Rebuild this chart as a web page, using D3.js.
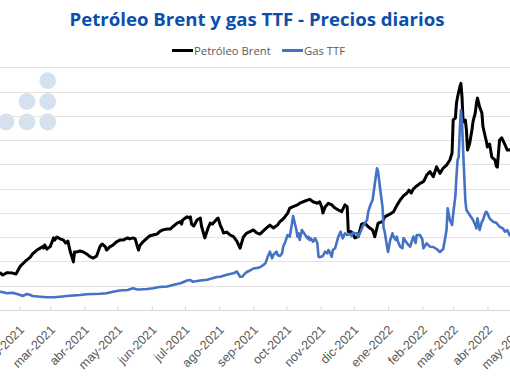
<!DOCTYPE html>
<html>
<head>
<meta charset="utf-8">
<script src="https://cdn.jsdelivr.net/npm/d3@7"></script>
<style>
  body { margin: 0; background: #fff; }
  svg { display: block; font-family: "Open Sans", sans-serif; }
</style>
</head>
<body>
<script>
const w = 510;
const h = 382;

// Brent (USD/bbl), left axis
const brentDates = ["2021-01-13","2021-01-15","2021-01-17","2021-01-21","2021-01-26","2021-01-29","2021-02-02","2021-02-06","2021-02-11","2021-02-13","2021-02-17","2021-02-20","2021-02-22","2021-02-23","2021-02-24","2021-02-26","2021-03-01","2021-03-04","2021-03-05","2021-03-07","2021-03-10","2021-03-13","2021-03-15","2021-03-17","2021-03-19","2021-03-21","2021-03-22","2021-03-23","2021-03-25","2021-03-28","2021-03-31","2021-04-03","2021-04-06","2021-04-09","2021-04-12","2021-04-15","2021-04-17","2021-04-20","2021-04-21","2021-04-24","2021-04-27","2021-04-30","2021-05-03","2021-05-06","2021-05-10","2021-05-12","2021-05-15","2021-05-17","2021-05-19","2021-05-20","2021-05-21","2021-05-24","2021-05-28","2021-05-30","2021-06-02","2021-06-06","2021-06-08","2021-06-11","2021-06-15","2021-06-18","2021-06-20","2021-06-24","2021-06-27","2021-06-28","2021-06-29","2021-07-03","2021-07-05","2021-07-06","2021-07-07","2021-07-09","2021-07-12","2021-07-15","2021-07-16","2021-07-19","2021-07-22","2021-07-24","2021-07-26","2021-07-30","2021-07-31","2021-08-02","2021-08-04","2021-08-05","2021-08-08","2021-08-11","2021-08-14","2021-08-17","2021-08-20","2021-08-23","2021-08-26","2021-08-29","2021-09-01","2021-09-04","2021-09-07","2021-09-11","2021-09-13","2021-09-16","2021-09-19","2021-09-23","2021-09-25","2021-09-28","2021-10-02","2021-10-04","2021-10-07","2021-10-11","2021-10-13","2021-10-16","2021-10-20","2021-10-22","2021-10-25","2021-10-29","2021-10-31","2021-11-02","2021-11-03","2021-11-05","2021-11-08","2021-11-11","2021-11-14","2021-11-17","2021-11-20","2021-11-23","2021-11-25","2021-11-26","2021-11-28","2021-11-30","2021-12-02","2021-12-05","2021-12-08","2021-12-11","2021-12-14","2021-12-18","2021-12-20","2021-12-23","2021-12-27","2021-12-29","2022-01-03","2022-01-06","2022-01-09","2022-01-12","2022-01-15","2022-01-18","2022-01-20","2022-01-22","2022-01-24","2022-01-27","2022-01-30","2022-02-02","2022-02-03","2022-02-05","2022-02-08","2022-02-11","2022-02-14","2022-02-17","2022-02-20","2022-02-23","2022-02-26","2022-02-28","2022-03-01","2022-03-03","2022-03-04","2022-03-05","2022-03-07","2022-03-08","2022-03-09","2022-03-10","2022-03-12","2022-03-13","2022-03-14","2022-03-16","2022-03-18","2022-03-19","2022-03-21","2022-03-22","2022-03-23","2022-03-25","2022-03-27","2022-03-28","2022-03-31","2022-04-01","2022-04-03","2022-04-05","2022-04-08","2022-04-09","2022-04-10","2022-04-12","2022-04-14","2022-04-17","2022-04-19","2022-04-21","2022-04-23"];
const brentValues = [55.2,55.2,54.4,55.4,55.2,54.8,58.1,59.9,61.8,63.1,64.7,65.5,66.1,65.5,66.8,65.1,66.1,69.7,68.8,70.1,69.3,68.8,67.6,68.4,64.3,61.4,59.8,63.9,63.9,64.3,63.9,63.1,62.0,61.4,62.2,66.1,67.2,66.0,64.7,66.0,66.8,68.1,68.8,68.8,69.7,69.3,69.7,69.3,66.0,64.7,66.4,68.1,69.7,70.5,70.9,71.3,72.3,73.0,73.4,73.4,74.3,75.8,76.4,75.4,77.1,78.4,77.9,78.4,75.4,74.6,77.1,77.9,74.6,69.7,73.8,75.8,75.4,77.5,77.9,75.0,73.0,71.7,72.1,70.9,70.2,68.4,65.5,70.1,71.7,72.3,73.0,71.8,71.3,73.0,73.8,75.0,73.8,75.0,76.4,77.5,79.8,82.0,82.6,83.3,84.0,84.6,85.3,85.6,84.6,84.0,84.6,82.4,80.0,82.4,84.0,83.3,82.0,81.2,80.5,83.3,82.6,72.3,72.3,71.7,69.7,70.2,75.4,75.8,74.3,73.0,70.2,75.8,76.4,78.4,79.6,80.5,83.1,85.3,87.0,88.1,89.4,88.2,89.9,91.1,92.2,92.9,93.6,95.6,97.0,94.9,99.0,96.3,98.5,99.7,101.8,104.7,118.3,119.1,125.3,127.8,131.9,133.4,127.8,117.5,118.3,114.2,105.9,108.8,114.2,117.6,121.2,124.9,127.3,123.6,121.2,115.5,109.6,107.2,108.4,103.0,101.8,99.3,98.9,110.0,110.9,108.0,105.9,105.9,106.5];

// Gas TTF (USD/MMBtu), right axis
const gasDates = ["2021-01-13","2021-01-15","2021-01-21","2021-01-26","2021-02-02","2021-02-04","2021-02-08","2021-02-11","2021-02-13","2021-02-20","2021-02-26","2021-03-04","2021-03-10","2021-03-16","2021-03-22","2021-03-28","2021-04-03","2021-04-15","2021-04-21","2021-04-27","2021-05-03","2021-05-10","2021-05-15","2021-05-19","2021-05-21","2021-05-28","2021-06-02","2021-06-08","2021-06-15","2021-06-20","2021-06-27","2021-07-03","2021-07-06","2021-07-08","2021-07-15","2021-07-21","2021-07-26","2021-07-30","2021-08-02","2021-08-08","2021-08-14","2021-08-17","2021-08-20","2021-08-22","2021-08-24","2021-08-26","2021-08-29","2021-09-01","2021-09-04","2021-09-07","2021-09-10","2021-09-12","2021-09-14","2021-09-16","2021-09-18","2021-09-19","2021-09-22","2021-09-23","2021-09-25","2021-09-27","2021-09-28","2021-09-30","2021-10-02","2021-10-04","2021-10-06","2021-10-07","2021-10-10","2021-10-11","2021-10-12","2021-10-13","2021-10-15","2021-10-16","2021-10-18","2021-10-20","2021-10-21","2021-10-22","2021-10-23","2021-10-25","2021-10-27","2021-10-29","2021-10-30","2021-10-31","2021-11-03","2021-11-05","2021-11-07","2021-11-08","2021-11-09","2021-11-11","2021-11-12","2021-11-14","2021-11-17","2021-11-19","2021-11-20","2021-11-21","2021-11-23","2021-11-25","2021-11-28","2021-11-29","2021-11-30","2021-12-04","2021-12-05","2021-12-07","2021-12-09","2021-12-13","2021-12-14","2021-12-16","2021-12-18","2021-12-20","2021-12-22","2021-12-23","2021-12-25","2021-12-27","2021-12-28","2021-12-29","2021-12-31","2022-01-01","2022-01-03","2022-01-05","2022-01-06","2022-01-08","2022-01-09","2022-01-10","2022-01-12","2022-01-14","2022-01-15","2022-01-18","2022-01-21","2022-01-24","2022-01-26","2022-01-27","2022-01-30","2022-02-01","2022-02-02","2022-02-05","2022-02-08","2022-02-11","2022-02-14","2022-02-17","2022-02-20","2022-02-23","2022-02-24","2022-02-26","2022-02-28","2022-03-01","2022-03-03","2022-03-04","2022-03-05","2022-03-06","2022-03-07","2022-03-08","2022-03-09","2022-03-10","2022-03-11","2022-03-12","2022-03-13","2022-03-16","2022-03-19","2022-03-21","2022-03-22","2022-03-23","2022-03-25","2022-03-27","2022-03-28","2022-03-30","2022-03-31","2022-04-01","2022-04-03","2022-04-06","2022-04-09","2022-04-12","2022-04-15","2022-04-17","2022-04-19","2022-04-21","2022-04-23"];
const gasValues = [7.54,7.54,6.88,7.13,6.18,5.77,6.59,6.18,5.77,5.48,5.23,5.23,5.48,5.77,5.97,6.18,6.47,6.67,6.88,7.54,8.03,8.24,8.94,8.45,8.45,8.65,8.94,9.48,9.68,10.3,11.0,12.15,12.36,11.66,12.15,12.48,13.06,13.6,13.72,14.54,15.12,15.86,13.72,13.72,14.83,15.66,16.27,17.1,17.3,17.6,18.54,19.24,21.96,24.02,21.3,22.66,24.02,22.66,22.25,23.36,26.08,28.14,30.9,30.2,35.72,38.73,32.96,30.2,31.6,28.84,32.96,32.26,30.9,29.54,30.2,28.84,29.54,28.14,29.54,27.48,21.96,21.71,22.25,24.02,23.36,24.72,24.02,21.96,24.72,25.42,30.2,32.26,30.9,29.54,31.6,30.9,31.31,30.49,31.72,31.6,30.2,32.14,34.4,37.08,40.38,43.26,45.32,51.9,58.38,56.98,49.44,42.44,33.78,32.14,26.37,23.9,28.84,31.6,30.28,28.84,30.2,28.14,26.08,25.42,29.66,27.6,26.08,30.28,27.6,30.9,30.9,29.25,25.42,27.48,26.08,25.96,25.13,23.9,25.13,32.96,41.9,37.08,35.02,39.55,46.97,55.2,61.8,63.04,74.16,82.4,77.46,65.9,55.62,45.32,41.2,39.14,37.08,35.02,33.66,37.78,32.96,36.38,37.08,39.84,40.5,39.84,37.78,36.38,35.97,34.32,33.66,32.26,32.96,30.9,30.5];

const brentTicks = [40, 50, 60, 70, 80, 90, 100, 110, 120, 130, 140];
const monthNames = ["ene","feb","mar","abr","may","jun","jul","ago","sep","oct","nov","dic"];
const seriesNames = ["Petróleo Brent", "Gas TTF"];
const seriesColors = ["#000000", "#4472c4"];

const parse = d3.timeParse("%Y-%m-%d");
const brent = brentDates.map((d, i) => ({date: parse(d), value: brentValues[i]}));
const gas = gasDates.map((d, i) => ({date: parse(d), value: gasValues[i]}));

const plotTop = 67.3, plotBottom = 310;

// the picture is a crop: jan-2021 and the y axis labels fall left of the frame
const x = d3.scaleTime()
  .domain([new Date(2021, 1, 1), new Date(2022, 3, 1)])
  .range([19.3, 487.4]);
const yBrent = d3.scaleLinear().domain([40, 140]).range([plotBottom, plotTop]);
const yGas = d3.scaleLinear().domain([0, 100]).range([plotBottom, plotTop]);

const svg = d3.select("body").append("svg")
  .attr("width", w)
  .attr("height", h);

// watermark dots
const dots = [[6, 122], [27, 101.5], [27, 122], [47.7, 80.7], [47.7, 101.5], [47.7, 122]];
svg.append("g").selectAll("circle")
  .data(dots)
  .join("circle")
  .attr("cx", d => d[0])
  .attr("cy", d => d[1])
  .attr("r", 8.4)
  .attr("fill", "#d6e1f0");

// gridlines
svg.append("g")
  .selectAll("line")
  .data(brentTicks)
  .join("line")
  .attr("x1", 0)
  .attr("x2", w)
  .attr("y1", d => Math.round(yBrent(d)) + 0.5)
  .attr("y2", d => Math.round(yBrent(d)) + 0.5)
  .attr("stroke", d => d === 40 ? "#d4d4d4" : "#e3e3e3")
  .attr("stroke-width", 1.2);

// x axis
const months = d3.timeMonth.range(new Date(2021, 0, 1), new Date(2022, 4, 2));
const xAxis = d3.axisBottom(x)
  .tickValues(months)
  .tickSizeInner(-4)
  .tickSizeOuter(0)
  .tickPadding(0)
  .tickFormat(d => monthNames[d.getMonth()] + "-" + d.getFullYear());

const gx = svg.append("g")
  .attr("transform", "translate(0," + (Math.round(plotBottom) + 0.5) + ")")
  .call(xAxis);
gx.select(".domain").remove();
gx.selectAll(".tick line").attr("stroke", "#d4d4d4");
gx.selectAll(".tick text")
  .attr("fill", "#595959")
  .attr("font-size", 12.5)
  .attr("text-anchor", "end")
  .attr("dy", "0.35em")
  .attr("transform", "translate(2,17) rotate(-45)");

// lines
const lineBrent = d3.line().x(d => x(d.date)).y(d => yBrent(d.value));
const lineGas = d3.line().x(d => x(d.date)).y(d => yGas(d.value));

svg.append("path")
  .datum(brent)
  .attr("fill", "none")
  .attr("stroke", seriesColors[0])
  .attr("stroke-width", 3)
  .attr("stroke-linejoin", "round")
  .attr("d", lineBrent);

svg.append("path")
  .datum(gas)
  .attr("fill", "none")
  .attr("stroke", seriesColors[1])
  .attr("stroke-width", 2.6)
  .attr("stroke-linejoin", "round")
  .attr("d", lineGas);

// title
svg.append("text")
  .attr("x", 257)
  .attr("y", 26)
  .attr("text-anchor", "middle")
  .attr("font-size", 18.6)
  .attr("font-weight", 700)
  .attr("fill", "#0a4fad")
  .text("Petróleo Brent y gas TTF - Precios diarios");

// legend
const legendX = [172, 282];
const legend = svg.append("g");
seriesNames.forEach((name, i) => {
  legend.append("line")
    .attr("x1", legendX[i]).attr("x2", legendX[i] + 21)
    .attr("y1", 50.5).attr("y2", 50.5)
    .attr("stroke", seriesColors[i])
    .attr("stroke-width", 3);
  legend.append("text")
    .attr("x", legendX[i] + 22)
    .attr("y", 54.5)
    .attr("font-size", 11.3)
    .attr("fill", "#595959")
    .text(name);
});
</script>
</body>
</html>
